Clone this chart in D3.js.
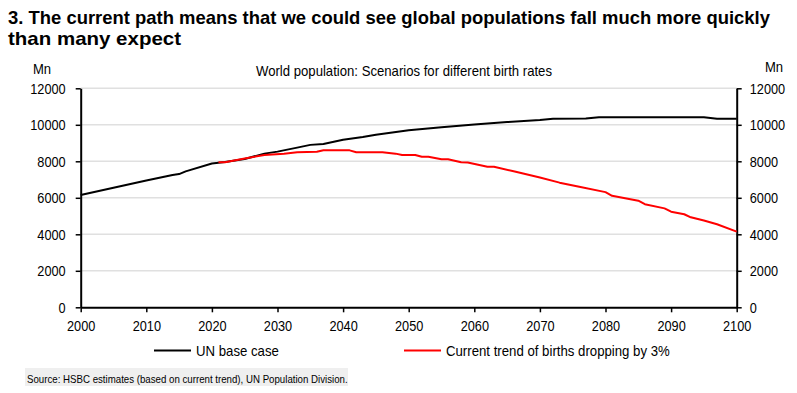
<!DOCTYPE html>
<meta charset="utf-8">
<head>
    <title>World population scenarios</title>
    <script type="text/javascript" src="https://cdn.jsdelivr.net/npm/d3@7"></script>
    <style>
        body { margin: 0; background: #fff; }
        text { font-family: 'Liberation Sans Narrow', 'Arial Narrow', 'Liberation Sans', Arial, sans-serif; fill: #000; }
    </style>
</head>
<body>
    <svg></svg>
    <script>
        // chart text
        var titleLines = ["3. The current path means that we could see global populations fall much more quickly",
                          "than many expect"];
        var subtitle = "World population: Scenarios for different birth rates";
        var unitLabel = "Mn";
        var sourceText = "Source: HSBC estimates (based on current trend), UN Population Division.";

        // tick values
        var xTicks = [2000, 2010, 2020, 2030, 2040, 2050, 2060, 2070, 2080, 2090, 2100];
        var yTicks = [0, 2000, 4000, 6000, 8000, 10000, 12000];

        // series: UN base case
        var baseYears = [2000, 2005, 2010, 2014, 2015, 2016, 2020, 2022, 2025, 2028, 2030, 2033, 2035, 2037,
                         2040, 2043, 2045, 2050, 2055, 2060, 2065, 2070, 2072, 2077, 2079, 2095, 2097, 2100];
        var baseValues = [6150, 6550, 6950, 7250, 7300, 7450, 7880, 7960, 8130, 8420, 8530, 8750, 8900, 8950,
                          9180, 9330, 9450, 9700, 9870, 10020, 10150, 10260, 10330, 10350, 10420, 10420, 10330, 10330];

        // series: current trend of births dropping by 3%
        var trendYears = [2021, 2022, 2025, 2028, 2031, 2033, 2036, 2037, 2041, 2042, 2046, 2048, 2049, 2051,
                          2052, 2053, 2055, 2056, 2058, 2059, 2062, 2063, 2066, 2070, 2073, 2076, 2080, 2081,
                          2085, 2086, 2089, 2090, 2092, 2093, 2095, 2097, 2100];
        var trendValues = [7950, 7950, 8150, 8350, 8420, 8500, 8520, 8600, 8600, 8500, 8500, 8420, 8350, 8350,
                           8250, 8250, 8110, 8110, 7950, 7930, 7700, 7700, 7450, 7110, 6830, 6600, 6310, 6110,
                           5840, 5650, 5420, 5240, 5100, 4930, 4760, 4550, 4150];

        var seriesNames = ["UN base case", "Current trend of births dropping by 3%"];
        var seriesColors = ["#000000", "#ff0000"];

        var w = 797, h = 393;
        var plotLeft = 80.7, plotRight = 736.7, plotTop = 88.3, plotBottom = 307.3;

        var svg = d3.select("svg").attr("width", w).attr("height", h);

        var x = d3.scaleLinear().domain([2000, 2100]).range([plotLeft, plotRight]);
        var y = d3.scaleLinear().domain([0, 12000]).range([plotBottom, plotTop]);

        // the reference uses a narrow face; squeeze the regular one to match
        function narrow(sel, k) {
            sel.each(function () {
                var len = this.getComputedTextLength();
                d3.select(this).attr("textLength", len * k).attr("lengthAdjust", "spacingAndGlyphs");
            });
        }

        // title
        var titleWidths = [762, 173];
        svg.selectAll(".title")
            .data(titleLines)
            .enter().append("text")
            .attr("class", "title")
            .attr("x", 8)
            .attr("y", function (d, i) { return 24 + i * 21; })
            .attr("textLength", function (d, i) { return titleWidths[i]; })
            .attr("lengthAdjust", "spacingAndGlyphs")
            .style("font-size", "19px")
            .style("font-weight", "bold")
            .text(function (d) { return d; });

        svg.append("text")
            .attr("x", 404)
            .attr("y", 76)
            .attr("text-anchor", "middle")
            .attr("textLength", 296)
            .attr("lengthAdjust", "spacingAndGlyphs")
            .style("font-size", "15px")
            .text(subtitle);

        svg.append("text").attr("x", 33).attr("y", 73.5).style("font-size", "15px").text(unitLabel).call(narrow, 0.87);
        svg.append("text").attr("x", 765).attr("y", 72).style("font-size", "15px").text(unitLabel).call(narrow, 0.87);

        // gridlines
        svg.append("g")
            .selectAll("line")
            .data(yTicks.filter(function (d) { return d > 0; }))
            .enter().append("line")
            .attr("x1", plotLeft).attr("x2", plotRight)
            .attr("y1", function (d) { return y(d); })
            .attr("y2", function (d) { return y(d); })
            .style("stroke", "#e0e0e0")
            .style("stroke-width", 1.5);

        // axes
        var fmt = d3.format("d");
        var yl = svg.append("g").attr("transform", "translate(" + plotLeft + ",0)")
            .call(d3.axisLeft(y).tickValues(yTicks).tickFormat(fmt).tickSize(5).tickSizeOuter(0).tickPadding(10));
        var yr = svg.append("g").attr("transform", "translate(" + plotRight + ",0)")
            .call(d3.axisRight(y).tickValues(yTicks).tickFormat(fmt).tickSize(5).tickSizeOuter(0).tickPadding(8));
        var xa = svg.append("g").attr("transform", "translate(0," + plotBottom + ")")
            .call(d3.axisBottom(x).tickValues(xTicks).tickFormat(fmt).tickSize(5).tickSizeOuter(0).tickPadding(8));

        [yl, yr, xa].forEach(function (g) {
            g.select(".domain").style("stroke", "#000").style("stroke-width", 2);
            g.selectAll(".tick line").style("stroke", "#000").style("stroke-width", 1.5);
            g.selectAll(".tick text")
                .style("font-size", "15px")
                .style("font-family", "'Liberation Sans Narrow', 'Arial Narrow', 'Liberation Sans', Arial, sans-serif")
                .attr("fill", "#000")
                .call(narrow, 0.85);
        });

        // lines
        var line = d3.line()
            .x(function (d) { return x(d[0]); })
            .y(function (d) { return y(d[1]); });

        var series = [
            d3.zip(baseYears, baseValues),
            d3.zip(trendYears, trendValues)
        ];

        svg.append("g")
            .selectAll("path")
            .data(series)
            .enter().append("path")
            .attr("d", line)
            .style("fill", "none")
            .style("stroke", function (d, i) { return seriesColors[i]; })
            .style("stroke-width", 2)
            .style("stroke-linejoin", "round");

        // legend
        var legendX = [154, 404];
        var lg = svg.append("g").selectAll("g")
            .data(seriesNames)
            .enter().append("g")
            .attr("transform", function (d, i) { return "translate(" + legendX[i] + ",350.5)"; });
        lg.append("line")
            .attr("x1", 0).attr("x2", 37)
            .style("stroke", function (d, i) { return seriesColors[i]; })
            .style("stroke-width", 2);
        lg.append("text")
            .attr("x", 42)
            .attr("y", 5.5)
            .style("font-size", "15px")
            .text(function (d) { return d; })
            .call(narrow, 0.88);

        // source
        svg.append("rect")
            .attr("x", 25).attr("y", 368)
            .attr("width", 323).attr("height", 18)
            .style("fill", "#efefef");
        svg.append("text")
            .attr("x", 27).attr("y", 382.5)
            .style("font-size", "11px")
            .text(sourceText)
            .call(narrow, 0.88);
    </script>
</body>
